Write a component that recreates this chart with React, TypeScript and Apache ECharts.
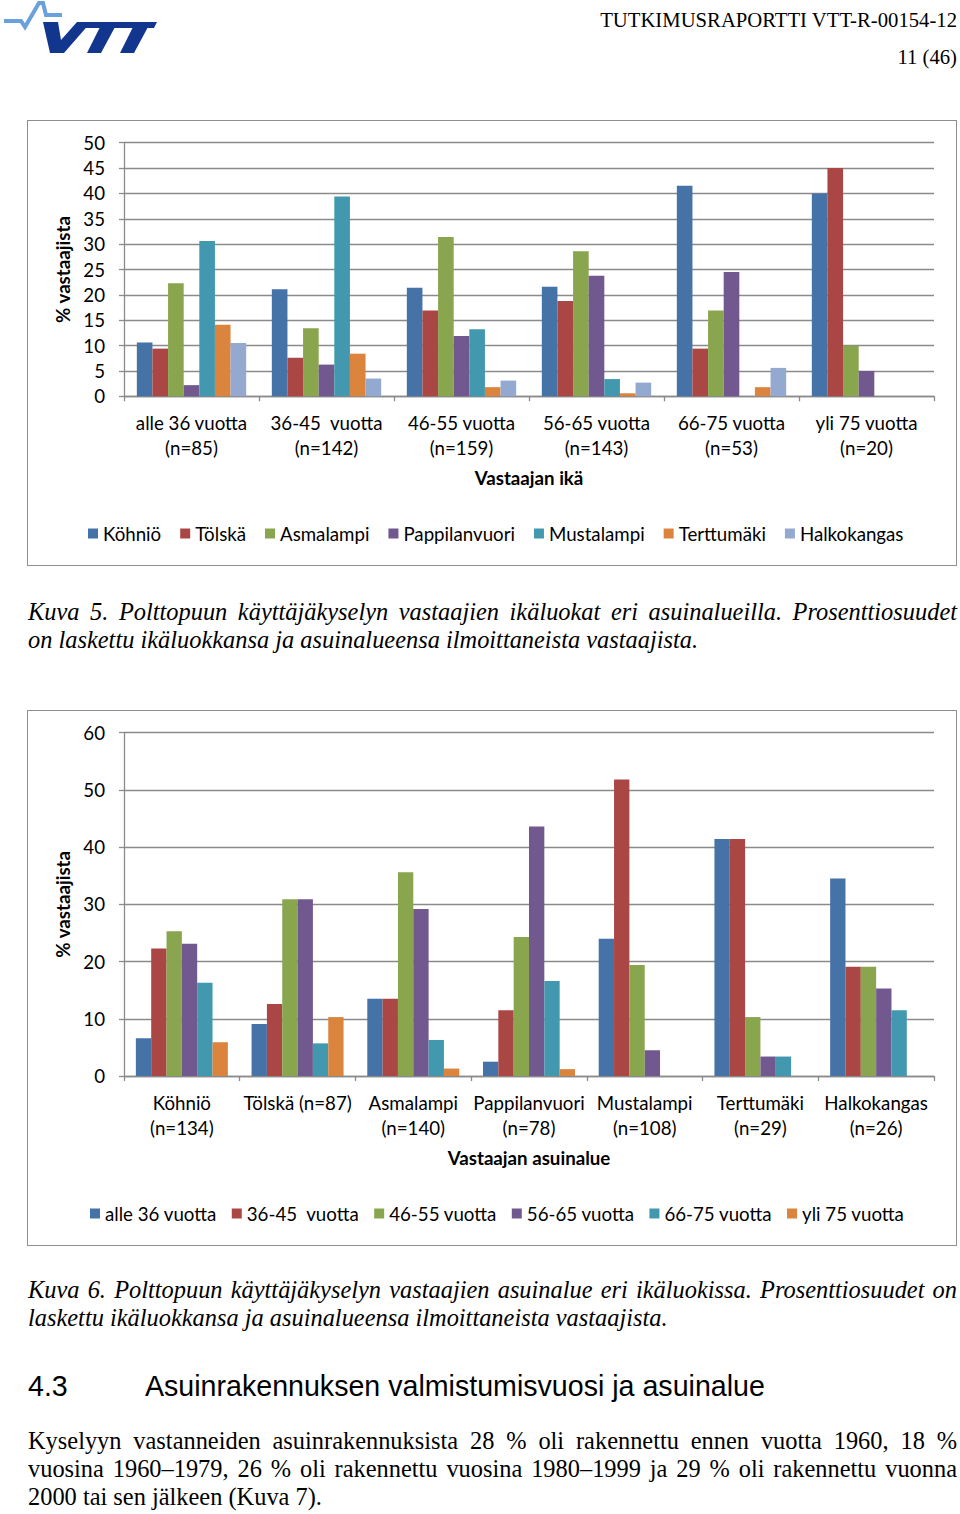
import React, { useEffect, useRef } from "react";
import * as echarts from "echarts";

const FONT = "Lato";
const FS = 18.7;
const SERIF = "'Liberation Serif', 'DejaVu Serif', serif";
const GRID_COLOR = "#8a8a8a";

// ---------- Chart 1 data (Kuva 5) ----------
const AGE_CATEGORIES = [
  "alle 36 vuotta\n(n=85)",
  "36-45  vuotta\n(n=142)",
  "46-55 vuotta\n(n=159)",
  "56-65 vuotta\n(n=143)",
  "66-75 vuotta\n(n=53)",
  "yli 75 vuotta\n(n=20)",
];
const AREA_NAMES = ["Köhniö", "Tölskä", "Asmalampi", "Pappilanvuori", "Mustalampi", "Terttumäki", "Halkokangas"];
const KOHNIO = [10.6, 21.1, 21.4, 21.6, 41.5, 40];
const TOLSKA = [9.4, 7.6, 16.9, 18.8, 9.4, 45];
const ASMALAMPI = [22.3, 13.4, 31.4, 28.6, 16.9, 10];
const PAPPILANVUORI = [2.2, 6.25, 11.9, 23.75, 24.5, 5];
const MUSTALAMPI = [30.6, 39.4, 13.2, 3.4, null, null];
const TERTTUMAKI = [14.1, 8.4, 1.8, 0.6, 1.8, null];
const HALKOKANGAS = [10.5, 3.5, 3.1, 2.7, 5.6, null];
const CHART1_VALUES = [KOHNIO, TOLSKA, ASMALAMPI, PAPPILANVUORI, MUSTALAMPI, TERTTUMAKI, HALKOKANGAS];

// ---------- Chart 2 data (Kuva 6) ----------
const AREA_CATEGORIES = [
  "Köhniö\n(n=134)",
  "Tölskä (n=87)",
  "Asmalampi\n(n=140)",
  "Pappilanvuori\n(n=78)",
  "Mustalampi\n(n=108)",
  "Terttumäki\n(n=29)",
  "Halkokangas\n(n=26)",
];
const AGE_NAMES = ["alle 36 vuotta", "36-45  vuotta", "46-55 vuotta", "56-65 vuotta", "66-75 vuotta", "yli 75 vuotta"];
const AGE_UNDER36 = [6.6, 9.1, 13.5, 2.5, 24.0, 41.4, 34.5];
const AGE_36_45 = [22.3, 12.6, 13.5, 11.5, 51.8, 41.4, 19.1];
const AGE_46_55 = [25.3, 30.9, 35.6, 24.3, 19.4, 10.3, 19.1];
const AGE_56_65 = [23.1, 30.9, 29.2, 43.6, 4.5, 3.4, 15.3];
const AGE_66_75 = [16.3, 5.7, 6.3, 16.6, null, 3.4, 11.5];
const AGE_OVER75 = [5.9, 10.3, 1.3, 1.2, null, null, null];
const CHART2_VALUES = [AGE_UNDER36, AGE_36_45, AGE_46_55, AGE_56_65, AGE_66_75, AGE_OVER75];

const COLORS = ["#4572A7", "#AA4643", "#89A54E", "#71588F", "#4198AF", "#DB843D", "#93A9CF"];

function buildOption(
  categories: string[],
  names: string[],
  values: (number | null)[][],
  yMax: number,
  yInterval: number,
  xName: string,
  legendLeft: number,
  legendTop: number,
  legendGap: number,
  gridBottom: number,
  catGap: string
) {
  return {
    animation: false,
    color: COLORS,
    textStyle: { fontFamily: FONT },
    grid: { left: 124, right: 26, top: 22.7, bottom: gridBottom, containLabel: false },
    legend: {
      data: names,
      left: legendLeft,
      top: legendTop,
      padding: 0,
      icon: "rect",
      itemWidth: 10,
      itemHeight: 10,
      itemGap: legendGap,
      textStyle: { fontFamily: FONT, fontSize: FS, color: "#000" },
    },
    xAxis: {
      type: "category",
      data: categories,
      name: xName,
      nameLocation: "middle",
      nameGap: 72,
      nameTextStyle: { fontFamily: FONT, fontSize: FS, fontWeight: "bold", color: "#000" },
      axisLine: { lineStyle: { color: GRID_COLOR, width: 1.3 } },
      axisTick: { show: true, length: 5, alignWithLabel: false, interval: 0, lineStyle: { color: GRID_COLOR, width: 1.3 } },
      axisLabel: { interval: 0, margin: 14, fontFamily: FONT, fontSize: FS, lineHeight: 25, color: "#000" },
      splitLine: { show: false },
    },
    yAxis: {
      type: "value",
      min: 0,
      max: yMax,
      interval: yInterval,
      name: "% vastaajista",
      nameLocation: "middle",
      nameRotate: 90,
      nameGap: 47,
      nameTextStyle: { fontFamily: FONT, fontSize: FS, fontWeight: "bold", color: "#000" },
      axisLine: { show: true, lineStyle: { color: GRID_COLOR, width: 1.3 } },
      axisTick: { show: true, length: 5, lineStyle: { color: GRID_COLOR, width: 1.3 } },
      axisLabel: { margin: 19, fontFamily: FONT, fontSize: FS, color: "#000" },
      splitLine: { show: true, lineStyle: { color: GRID_COLOR, width: 1.3 } },
    },
    series: names.map((n, i) => ({
      name: n,
      type: "bar",
      data: values[i],
      barGap: "0%",
      barCategoryGap: catGap,
      itemStyle: { color: COLORS[i] },
    })),
  };
}

function Chart({ option, height }: { option: any; height: number }) {
  const ref = useRef<HTMLDivElement>(null);
  useEffect(() => {
    if (!ref.current) return;
    const chart = echarts.init(ref.current, null, { renderer: "svg" });
    chart.setOption(option);
    return () => chart.dispose();
  }, []);
  return <div ref={ref} style={{ width: 960, height }} />;
}

function JustifiedLines({ lines, style }: { lines: string[]; style: React.CSSProperties }) {
  return (
    <div style={style}>
      {lines.map((l, i) => (
        <div
          key={i}
          style={{
            textAlign: i < lines.length - 1 ? "justify" : "left",
            textAlignLast: i < lines.length - 1 ? "justify" : "left",
            whiteSpace: "nowrap",
          } as React.CSSProperties}
        >
          {l}
        </div>
      ))}
    </div>
  );
}

const CAPTION1 = [
  "Kuva 5. Polttopuun käyttäjäkyselyn vastaajien ikäluokat eri asuinalueilla. Prosenttiosuudet",
  "on laskettu ikäluokkansa ja asuinalueensa ilmoittaneista vastaajista.",
];
const CAPTION2 = [
  "Kuva 6. Polttopuun käyttäjäkyselyn vastaajien asuinalue eri ikäluokissa. Prosenttiosuudet on",
  "laskettu ikäluokkansa ja asuinalueensa ilmoittaneista vastaajista.",
];
const PARAGRAPH = [
  "Kyselyyn vastanneiden asuinrakennuksista 28 % oli rakennettu ennen vuotta 1960, 18 %",
  "vuosina 1960–1979, 26 % oli rakennettu vuosina 1980–1999 ja 29 % oli rakennettu vuonna",
  "2000 tai sen jälkeen (Kuva 7).",
];

export default function App() {
  const option1 = buildOption(AGE_CATEGORIES, AREA_NAMES, CHART1_VALUES, 50, 5, "Vastaajan ikä", 88, 404, 19, 169.7, "19%");
  const option2 = buildOption(AREA_CATEGORIES, AGE_NAMES, CHART2_VALUES, 60, 10, "Vastaajan asuinalue", 90, 494, 15, 170, "20.5%");
  const textBlock = { position: "absolute", left: 28, width: 929, fontFamily: SERIF, fontSize: 24.4, lineHeight: "28px", color: "#000" } as React.CSSProperties;
  return (
    <div style={{ position: "absolute", left: 0, top: 0, width: 960, height: 1514, background: "#fff", overflow: "hidden" }}>
      {/* Logo */}
      <svg width={165} height={58} style={{ position: "absolute", left: 0, top: 0 }}>
        <polyline
          points="4,21 21,21 25,27 39,3 43,3 46,15 62,15"
          fill="none"
          stroke="#6aa0dc"
          strokeWidth={4}
          strokeLinejoin="miter"
        />
        <polygon points="43,22 58,22 61,40 77,22 91,22 64,53 50,53" fill="#12358d" />
        <polygon points="86,22 157,22 154,28 83,28" fill="#12358d" />
        <polygon points="100,27 115,27 101,53 87,53" fill="#12358d" />
        <polygon points="133,27 148,27 134,53 120,53" fill="#12358d" />
      </svg>

      {/* Header */}
      <div style={{ position: "absolute", right: 3, top: 8, fontFamily: SERIF, fontSize: 20.7, lineHeight: "24px", color: "#000", whiteSpace: "nowrap" }}>
        TUTKIMUSRAPORTTI VTT-R-00154-12
      </div>
      <div style={{ position: "absolute", right: 3, top: 45, fontFamily: SERIF, fontSize: 20.7, lineHeight: "24px", color: "#000", whiteSpace: "nowrap" }}>
        11 (46)
      </div>

      {/* Chart 1 */}
      <div style={{ position: "absolute", left: 0, top: 120, width: 960, height: 446 }}>
        <Chart option={option1} height={446} />
      </div>
      <div style={{ position: "absolute", left: 27, top: 120, width: 930, height: 446, border: "1.5px solid #8f8f8f", boxSizing: "border-box", pointerEvents: "none" }} />

      <JustifiedLines lines={CAPTION1} style={{ ...textBlock, top: 598, fontStyle: "italic" }} />

      {/* Chart 2 */}
      <div style={{ position: "absolute", left: 0, top: 710, width: 960, height: 536 }}>
        <Chart option={option2} height={536} />
      </div>
      <div style={{ position: "absolute", left: 27, top: 710, width: 930, height: 536, border: "1.5px solid #8f8f8f", boxSizing: "border-box", pointerEvents: "none" }} />

      <JustifiedLines lines={CAPTION2} style={{ ...textBlock, top: 1276, fontStyle: "italic" }} />

      {/* Heading */}
      <div style={{ position: "absolute", left: 28, top: 1368, fontFamily: "'Liberation Sans', Arial, sans-serif", fontSize: 28.6, lineHeight: "36px", color: "#000", whiteSpace: "nowrap" }}>
        4.3
      </div>
      <div style={{ position: "absolute", left: 145, top: 1368, fontFamily: "'Liberation Sans', Arial, sans-serif", fontSize: 28.6, lineHeight: "36px", color: "#000", whiteSpace: "nowrap" }}>
        Asuinrakennuksen valmistumisvuosi ja asuinalue
      </div>

      <JustifiedLines lines={PARAGRAPH} style={{ ...textBlock, top: 1427 }} />
    </div>
  );
}
